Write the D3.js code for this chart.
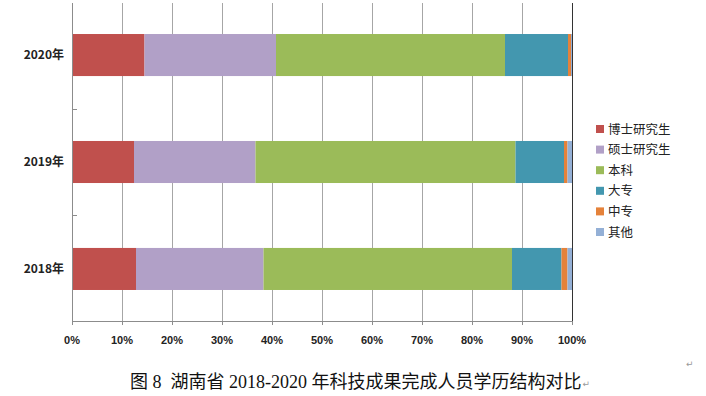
<!DOCTYPE html>
<html><head><meta charset="utf-8">
<script src="https://cdn.jsdelivr.net/npm/d3@7"></script>
<style>
html,body{margin:0;padding:0;background:#fff;}
svg{display:block;}
</style></head>
<body>
<svg id="c" width="706" height="396"></svg>
<script>
const years = ["2020年", "2019年", "2018年"];
const seriesNames = ["博士研究生", "硕士研究生", "本科", "大专", "中专", "其他"];
const seriesColors = ["#C0504D", "#B1A0C7", "#9BBB59", "#4397AF", "#E5823A", "#94B0D6"];
// percentages per year (order matches years)
const doctor   = [14.5, 12.4, 12.8];
const master   = [26.3, 24.3, 25.5];
const bachelor = [45.8, 52.0, 49.7];
const college  = [12.6, 9.7, 9.9];
const technical= [0.6, 0.7, 1.2];
const other    = [0.2, 0.9, 0.9];
const tickLabels = ["0%","10%","20%","30%","40%","50%","60%","70%","80%","90%","100%"];
const caption = "图 8  湖南省 2018-2020 年科技成果完成人员学历结构对比";

const seriesVals = [doctor, master, bachelor, college, technical, other];
const rows = years.map((y, i) => {
  const o = {year: y};
  seriesNames.forEach((s, j) => o[s] = seriesVals[j][i]);
  return o;
});

const svg = d3.select("#c");
const x = d3.scaleLinear().domain([0, 100]).range([72, 572]);
const y = d3.scaleBand().domain(years).range([3, 321]).paddingInner(0.607).paddingOuter(0.29);
const color = d3.scaleOrdinal().domain(seriesNames).range(seriesColors);

// gridlines
svg.append("g").selectAll("line").data(d3.range(10, 101, 10)).join("line")
  .attr("x1", d => Math.round(x(d)) + 0.5).attr("x2", d => Math.round(x(d)) + 0.5)
  .attr("y1", 3).attr("y2", 321)
  .attr("stroke", d => d === 100 ? "#333" : "#a6a6a6").attr("stroke-width", 1);

// bars
const stack = d3.stack().keys(seriesNames)(rows);
svg.append("g").selectAll("g").data(stack).join("g")
  .attr("fill", d => color(d.key))
  .selectAll("rect").data(d => d).join("rect")
  .attr("x", d => x(d[0])).attr("width", d => x(d[1]) - x(d[0]))
  .attr("y", d => y(d.data.year)).attr("height", y.bandwidth());

// left axis line
svg.append("line").attr("x1", 72.5).attr("x2", 72.5).attr("y1", 3).attr("y2", 321.5)
  .attr("stroke", "#8c8c8c");
// category separator ticks
const step = y.step();
svg.append("g").selectAll("line").data(years.slice(0, -1)).join("line")
  .attr("x1", 72).attr("x2", 77)
  .attr("y1", d => Math.round(y(d) + y.bandwidth() + (step - y.bandwidth()) / 2) + 0.5)
  .attr("y2", d => Math.round(y(d) + y.bandwidth() + (step - y.bandwidth()) / 2) + 0.5)
  .attr("stroke", "#8c8c8c");
// bottom axis
svg.append("line").attr("x1", 72).attr("x2", 573).attr("y1", 321.5).attr("y2", 321.5)
  .attr("stroke", "#8c8c8c");
svg.append("g").selectAll("line").data(d3.range(0, 101, 10)).join("line")
  .attr("x1", d => Math.round(x(d)) + 0.5).attr("x2", d => Math.round(x(d)) + 0.5)
  .attr("y1", 321).attr("y2", 325).attr("stroke", "#8c8c8c");

// x tick labels
svg.append("g").selectAll("text").data(tickLabels).join("text")
  .attr("x", (d, i) => x(i * 10)).attr("y", 344)
  .attr("text-anchor", "middle")
  .attr("font-family", "'Liberation Sans', Arial, sans-serif")
  .attr("font-weight", "bold").attr("font-size", 11).attr("fill", "#222")
  .text(d => d);

// y labels
svg.append("g").selectAll("text").data(years).join("text")
  .attr("x", 64).attr("y", d => y(d) + y.bandwidth() / 2 + 4)
  .attr("text-anchor", "end")
  .attr("font-family", "'Noto Sans CJK SC', sans-serif")
  .attr("font-weight", "bold").attr("font-size", 12).attr("fill", "#222")
  .text(d => d);

// legend
const lg = svg.append("g").selectAll("g").data(seriesNames).join("g")
  .attr("transform", (d, i) => `translate(596, ${129 + i * 20.6})`);
lg.append("rect").attr("x", 0).attr("y", -4).attr("width", 8).attr("height", 8)
  .attr("fill", d => color(d));
lg.append("text").attr("x", 12).attr("y", 4.5)
  .attr("font-family", "'Noto Sans CJK SC', sans-serif")
  .attr("font-size", 12.5).attr("fill", "#222").text(d => d);

// caption
const cap = svg.append("text").attr("x", 130).attr("y", 388)
  .attr("font-family", "'Liberation Serif', 'Noto Sans CJK SC', serif")
  .attr("font-size", 18).attr("fill", "#111")
  .attr("xml:space", "preserve")
  .text(caption);
const capEnd = 130 + cap.node().getComputedTextLength();
svg.append("text").attr("x", capEnd + 1).attr("y", 387)
  .attr("font-family", "'DejaVu Sans', sans-serif").attr("font-size", 9).attr("fill", "#999").text("↵");
svg.append("text").attr("x", 686).attr("y", 367)
  .attr("font-family", "'DejaVu Sans', sans-serif").attr("font-size", 9).attr("fill", "#999").text("↵");
</script>
</body></html>
